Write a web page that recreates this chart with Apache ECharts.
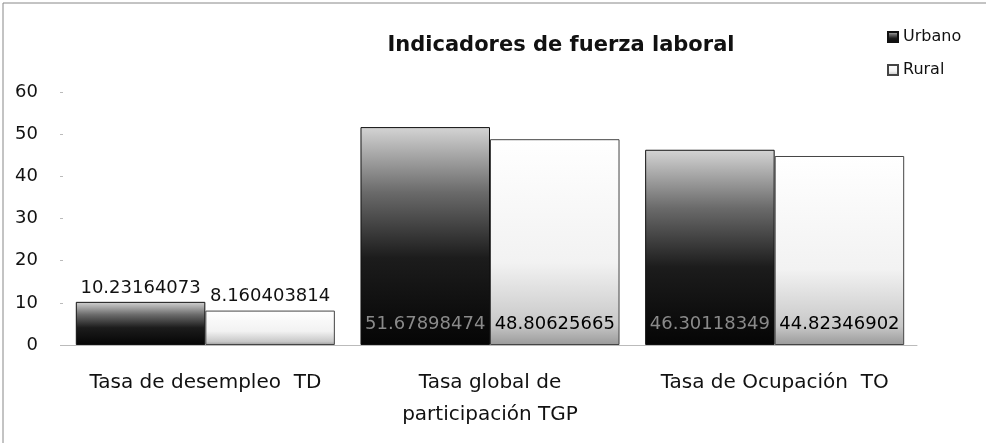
<!DOCTYPE html>
<html>
<head>
<meta charset="utf-8">
<script src="https://cdn.jsdelivr.net/npm/echarts@6/dist/echarts.min.js"></script>
<style>
	html, body { margin: 0; padding: 0; background: #fff; }
	#chart { width: 986px; height: 443px; }
</style>
</head>
<body>
<div id="chart"></div>
<script>
	// 数据
	var categories = ['Tasa de desempleo  TD', 'Tasa global de\nparticipación TGP', 'Tasa de Ocupación  TO'];
	var urbano = [10.23164073, 51.67898474, 46.30118349];
	var rural = [8.160403814, 48.80625665, 44.82346902];
	var yTicks = [0, 10, 20, 30, 40, 50, 60];

	var font = 'DejaVu Sans';

	// 第一组标签在柱顶，其余在柱底
	function buildData(values, darkBar) {
		return values.map(function(v, i) {
			return {
				value: v,
				label: i == 0 ? {
					position: 'top',
					color: '#111'
				} : {
					position: 'insideBottom',
					distance: 12,
					color: darkBar ? '#8a8a8a' : '#000'
				}
			};
		});
	}

	var myChart = echarts.init(document.getElementById('chart'));
	var option = {
		animation: false,
		title: {
			text: 'Indicadores de fuerza laboral',
			left: 556,
			top: 30,
			textAlign: 'center',
			textStyle: { fontFamily: font, fontSize: 21, fontWeight: 'bold', color: '#111' }
		},
		legend: {
			orient: 'vertical',
			left: 882,
			top: 24,
			icon: 'rect',
			itemWidth: 10,
			itemHeight: 10,
			itemGap: 17,
			textStyle: { fontFamily: font, fontSize: 16, color: '#111' },
			data: ['Urbano', 'Rural']
		},
		graphic: [{
			type: 'rect',
			shape: { x: 3, y: 3, width: 1000, height: 460 },
			style: { fill: 'none', stroke: '#888', lineWidth: 1 }
		}],
		grid: { left: 63, right: 69, top: 92, bottom: 98 },
		xAxis: {
			type: 'category',
			data: categories,
			axisLine: { lineStyle: { color: '#bbb' } },
			axisTick: { show: false },
			axisLabel: { interval: 0, fontFamily: font, fontSize: 20, color: '#111', margin: 22, lineHeight: 32 }
		},
		yAxis: {
			type: 'value',
			min: yTicks[0],
			max: yTicks[yTicks.length - 1],
			interval: 10,
			splitLine: { show: false },
			axisLine: { show: false },
			axisTick: { show: true, length: 3, lineStyle: { color: '#bbb' } },
			axisLabel: { fontFamily: font, fontSize: 18, color: '#111', margin: 25 }
		},
		series: [{
			name: 'Urbano',
			type: 'bar',
			barGap: '0%',
			barCategoryGap: '9%',
			itemStyle: {
				color: new echarts.graphic.LinearGradient(0, 0, 0, 1, [
					{ offset: 0, color: '#d4d4d4' },
					{ offset: 0.3, color: '#6a6a6a' },
					{ offset: 0.6, color: '#1c1c1c' },
					{ offset: 1, color: '#050505' }
				]),
				borderColor: '#111',
				borderWidth: 1
			},
			label: { show: true, fontFamily: font, fontSize: 18 },
			data: buildData(urbano, true)
		}, {
			name: 'Rural',
			type: 'bar',
			itemStyle: {
				color: new echarts.graphic.LinearGradient(0, 0, 0, 1, [
					{ offset: 0, color: '#ffffff' },
					{ offset: 0.6, color: '#f2f2f2' },
					{ offset: 0.9, color: '#c8c8c8' },
					{ offset: 1, color: '#9a9a9a' }
				]),
				borderColor: '#444',
				borderWidth: 1
			},
			label: { show: true, fontFamily: font, fontSize: 18 },
			data: buildData(rural, false)
		}]
	};
	myChart.setOption(option);
</script>
</body>
</html>
